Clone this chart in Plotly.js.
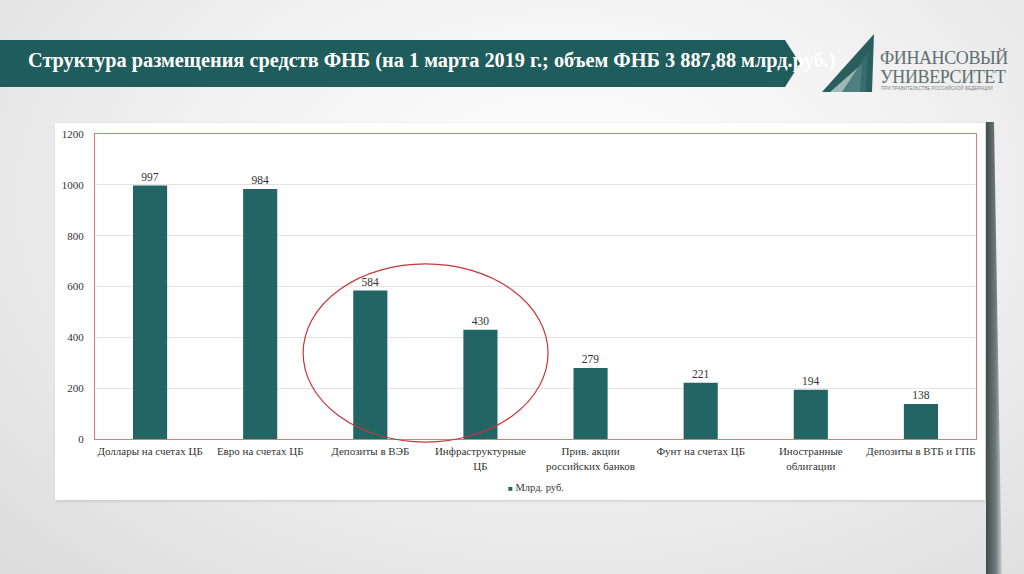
<!DOCTYPE html>
<html>
<head>
<meta charset="utf-8">
<script src="https://cdn.plot.ly/plotly-3.0.1.min.js"></script>
<style>
  html, body { margin:0; padding:0; }
  body { width:1024px; height:574px; position:relative; overflow:hidden;
         background: radial-gradient(ellipse at 55% 35%, #ffffff 0%, #f2f2f2 45%, #dcdcdc 100%); }
  #banner { position:absolute; left:0; top:40px; width:800px; height:47px; background:#1f5c5c;
            clip-path: polygon(0 0, 785px 0, 800px 50%, 785px 100%, 0 100%); }
  #title { position:absolute; left:28px; top:49px; color:#ffffff; font-family:'Liberation Serif', 'Times New Roman', serif;
           font-weight:bold; font-size:20.3px; white-space:nowrap; }
  #logo1 { position:absolute; left:880px; top:48px; color:#5f7070; font-family:'Liberation Serif', serif; font-size:18px; letter-spacing:-0.4px; }
  #logo2 { position:absolute; left:880px; top:67px; color:#5f7070; font-family:'Liberation Serif', serif; font-size:18px; letter-spacing:-0.4px; }
  #logo3 { position:absolute; left:881px; top:86px; color:#7a8585; font-family:'Liberation Sans', sans-serif; font-size:4.5px; }
  #fan { position:absolute; left:822px; top:34px; width:56px; height:58px; }
  #card { position:absolute; left:55px; top:123px; width:930px; height:377px; background:#ffffff;
          box-shadow: 1px 1px 3px rgba(0,0,0,0.15); }
  #edge { position:absolute; left:986px; top:122px; width:16px; height:460px;
          background: linear-gradient(90deg, #3f4c4c 0%, #6f7a7a 60%, #c9cfcf 100%);
          clip-path: polygon(0 0, 50% 0, 100% 100%, 0 100%); }
  #chart { position:absolute; left:0; top:0; width:1024px; height:574px; }
</style>
</head>
<body>
<div id="banner"></div>
<div id="title">Структура размещения средств ФНБ (на 1 марта 2019 г.; объем ФНБ 3 887,88 млрд.руб.)</div>
<svg id="fan" viewBox="0 0 56 58">
  <path d="M0 58 L52 0 L50 58 Z" fill="#2a5f5f"/>
  <path d="M8 58 L40 30 L38 58 Z" fill="#ffffff" opacity="0.55"/>
  <path d="M20 58 L46 18 L44 58 Z" fill="#3c7070" opacity="0.8"/>
</svg>
<div id="logo1">ФИНАНСОВЫЙ</div>
<div id="logo2">УНИВЕРСИТЕТ</div>
<div id="logo3">ПРИ ПРАВИТЕЛЬСТВЕ РОССИЙСКОЙ ФЕДЕРАЦИИ</div>
<div id="card"></div>
<div id="edge"></div>
<div id="chart"></div>
<script>
const categories = [
  "Доллары на счетах ЦБ",
  "Евро на счетах ЦБ",
  "Депозиты в ВЭБ",
  "Инфраструктурные<br>ЦБ",
  "Прив. акции<br>российских банков",
  "Фунт на счетах ЦБ",
  "Иностранные<br>облигации",
  "Депозиты в ВТБ и ГПБ"
];
const values = [997, 984, 584, 430, 279, 221, 194, 138];
const seriesName = "Млрд. руб.";
const yTicks = [0, 200, 400, 600, 800, 1000, 1200];

const serif = "'Liberation Serif', 'Times New Roman', serif";
const barColor = "#236565";

const trace = {
  type: "bar",
  x: categories,
  y: values,
  name: seriesName,
  marker: { color: barColor },
  text: values.map(String),
  textposition: "outside",
  textfont: { family: serif, size: 11.5, color: "#333333" },
  cliponaxis: false,
  showlegend: false
};

const layout = {
  width: 1024,
  height: 574,
  margin: { l: 95, r: 48, t: 134, b: 135 },
  paper_bgcolor: "rgba(0,0,0,0)",
  plot_bgcolor: "#ffffff",
  bargap: 0.69,
  showlegend: false,
  xaxis: {
    type: "category",
    tickfont: { family: serif, size: 11, color: "#333333" },
    showgrid: false,
    showline: true, mirror: true, linecolor: "#e07a7a", linewidth: 1,
    ticks: "", ticklabelstandoff: 2,
    fixedrange: true
  },
  yaxis: {
    range: [0, 1200],
    tickvals: yTicks,
    ticktext: yTicks.map(String),
    tickfont: { family: serif, size: 11, color: "#333333" },
    showgrid: true, gridcolor: "#e3e3e3", gridwidth: 1,
    zeroline: false,
    showline: true, mirror: true, linecolor: "#e07a7a", linewidth: 1,
    ticks: "", ticklabelstandoff: 8,
    fixedrange: true
  },
  annotations: [
    { xref: "paper", yref: "paper", x: 0.5, y: -0.158, xanchor: "center", yanchor: "middle",
      showarrow: false,
      text: '<span style="color:' + barColor + '; font-size:8px">■</span> ' + seriesName,
      font: { family: serif, size: 10.5, color: "#333333" } }
  ],
  shapes: [
    { type: "circle", xref: "x", yref: "paper",
      x0: 1.39, x1: 3.614, y0: -0.01, y1: 0.574,
      line: { color: "#c8343a", width: 1.2 }, fillcolor: "rgba(0,0,0,0)", layer: "above" }
  ]
};

Plotly.newPlot("chart", [trace], layout, { displayModeBar: false, staticPlot: true });
</script>
</body>
</html>
